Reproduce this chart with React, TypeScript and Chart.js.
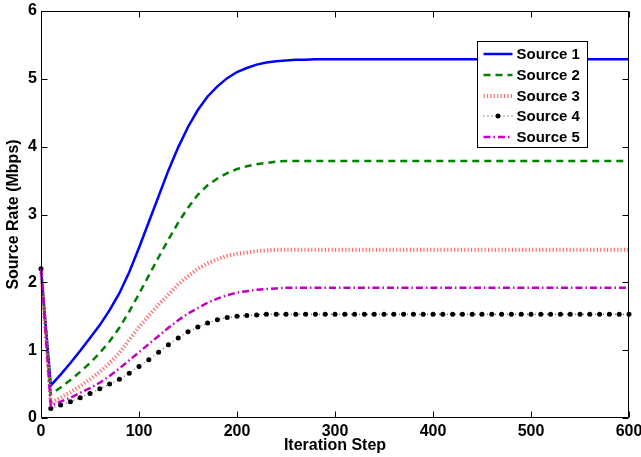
import React, { useEffect, useRef } from 'react';
import { Chart, registerables } from 'chart.js';

Chart.register(...registerables);

// ---------- data ----------
const steps = [
  0, 10, 20, 30, 40, 50, 60, 70, 80, 90,
  100, 110, 120, 130, 140, 150, 160, 170, 180, 190,
  200, 210, 220, 230, 240, 250, 260, 270, 280, 290,
  300, 310, 320, 330, 340, 350, 360, 370, 380, 390,
  400, 410, 420, 430, 440, 450, 460, 470, 480, 490,
  500, 510, 520, 530, 540, 550, 560, 570, 580, 590,
  600,
];

const source1 = [
  2.2, 0.48, 0.64, 0.81, 0.99, 1.18, 1.37, 1.59, 1.84, 2.15,
  2.51, 2.89, 3.27, 3.65, 3.99, 4.29, 4.54, 4.74, 4.89, 5.01,
  5.10, 5.16, 5.21, 5.24, 5.26, 5.27, 5.28, 5.28, 5.29, 5.29,
  5.29, 5.29, 5.29, 5.29, 5.29, 5.29, 5.29, 5.29, 5.29, 5.29,
  5.29, 5.29, 5.29, 5.29, 5.29, 5.29, 5.29, 5.29, 5.29, 5.29,
  5.29, 5.29, 5.29, 5.29, 5.29, 5.29, 5.29, 5.29, 5.29, 5.29,
  5.29,
];

const source2 = [
  2.2, 0.35, 0.45, 0.56, 0.68, 0.81, 0.96, 1.13, 1.33, 1.57,
  1.83, 2.10, 2.37, 2.63, 2.88, 3.10, 3.29, 3.43, 3.53, 3.61,
  3.67, 3.71, 3.74, 3.76, 3.78, 3.79, 3.79, 3.79, 3.79, 3.79,
  3.79, 3.79, 3.79, 3.79, 3.79, 3.79, 3.79, 3.79, 3.79, 3.79,
  3.79, 3.79, 3.79, 3.79, 3.79, 3.79, 3.79, 3.79, 3.79, 3.79,
  3.79, 3.79, 3.79, 3.79, 3.79, 3.79, 3.79, 3.79, 3.79, 3.79,
  3.79,
];

const source3 = [
  2.2, 0.22, 0.30, 0.38, 0.47, 0.57, 0.68, 0.81, 0.96, 1.15,
  1.34, 1.51, 1.67, 1.82, 1.97, 2.09, 2.20, 2.28, 2.34, 2.39,
  2.42, 2.44, 2.46, 2.47, 2.48, 2.48, 2.48, 2.48, 2.48, 2.48,
  2.48, 2.48, 2.48, 2.48, 2.48, 2.48, 2.48, 2.48, 2.48, 2.48,
  2.48, 2.48, 2.48, 2.48, 2.48, 2.48, 2.48, 2.48, 2.48, 2.48,
  2.48, 2.48, 2.48, 2.48, 2.48, 2.48, 2.48, 2.48, 2.48, 2.48,
  2.48,
];

const source4 = [
  2.2, 0.14, 0.19, 0.24, 0.30, 0.36, 0.43, 0.50, 0.57, 0.66,
  0.76, 0.86, 0.97, 1.08, 1.18, 1.27, 1.34, 1.40, 1.45, 1.48,
  1.50, 1.51, 1.52, 1.53, 1.53, 1.53, 1.53, 1.53, 1.53, 1.53,
  1.53, 1.53, 1.53, 1.53, 1.53, 1.53, 1.53, 1.53, 1.53, 1.53,
  1.53, 1.53, 1.53, 1.53, 1.53, 1.53, 1.53, 1.53, 1.53, 1.53,
  1.53, 1.53, 1.53, 1.53, 1.53, 1.53, 1.53, 1.53, 1.53, 1.53,
  1.53,
];

const source5 = [
  2.2, 0.18, 0.24, 0.30, 0.37, 0.44, 0.52, 0.62, 0.73, 0.85,
  0.97, 1.09, 1.21, 1.33, 1.44, 1.54, 1.62, 1.70, 1.76, 1.81,
  1.85, 1.87, 1.89, 1.90, 1.91, 1.92, 1.92, 1.92, 1.92, 1.92,
  1.92, 1.92, 1.92, 1.92, 1.92, 1.92, 1.92, 1.92, 1.92, 1.92,
  1.92, 1.92, 1.92, 1.92, 1.92, 1.92, 1.92, 1.92, 1.92, 1.92,
  1.92, 1.92, 1.92, 1.92, 1.92, 1.92, 1.92, 1.92, 1.92, 1.92,
  1.92,
];

const seriesLabels = ['Source 1', 'Source 2', 'Source 3', 'Source 4', 'Source 5'];
const xTicks = [0, 100, 200, 300, 400, 500, 600];
const yTicks = [0, 1, 2, 3, 4, 5, 6];
const xTitle = 'Iteration Step';
const yTitle = 'Source Rate (Mbps)';

// ---------- styles ----------
const FONT = '"Liberation Sans", Arial, Helvetica, sans-serif';

type Style = {
  color: string;
  width: number;
  dash: number[];
  marker: number;
};

const styles: Style[] = [
  { color: '#0000ff', width: 2.5, dash: [], marker: 0 },
  { color: '#008000', width: 2.5, dash: [7, 5], marker: 0 },
  { color: '#ff6a6a', width: 4, dash: [1.2, 2.2], marker: 0 },
  { color: '#333333', width: 1, dash: [1, 3], marker: 2.5 },
  { color: '#c000c0', width: 2.5, dash: [7, 3, 1.5, 3], marker: 0 },
];

const seriesValues = [source1, source2, source3, source4, source5];

const framePlugin = {
  id: 'matlabFrame',
  afterDatasetsDraw(chart: any) {
    const { ctx, chartArea: a, scales } = chart;
    const L = Math.round(a.left) + 0.5;
    const R = Math.round(a.right) - 0.5;
    const T = Math.round(a.top) + 0.5;
    const B = Math.round(a.bottom) - 0.5;
    const tl = 6;
    ctx.save();
    ctx.setLineDash([]);
    ctx.strokeStyle = '#000';
    ctx.lineWidth = 1;
    ctx.beginPath();
    ctx.rect(L, T, R - L, B - T);
    xTicks.forEach((v) => {
      const px = Math.round(scales.x.getPixelForValue(v)) + 0.5;
      ctx.moveTo(px, B);
      ctx.lineTo(px, B - tl);
      ctx.moveTo(px, T);
      ctx.lineTo(px, T + tl);
    });
    yTicks.forEach((v) => {
      const py = Math.round(scales.y.getPixelForValue(v)) + 0.5;
      ctx.moveTo(L, py);
      ctx.lineTo(L + tl, py);
      ctx.moveTo(R, py);
      ctx.lineTo(R - tl, py);
    });
    ctx.stroke();
    ctx.restore();
  },
};

const legendPlugin = {
  id: 'matlabLegend',
  afterDraw(chart: any) {
    const { ctx, chartArea: a } = chart;
    const boxW = 110;
    const boxH = 106;
    const x0 = Math.round(a.right - 42 - boxW) + 0.5;
    const y0 = Math.round(a.top + 30) + 0.5;
    ctx.save();
    ctx.fillStyle = '#fff';
    ctx.fillRect(x0, y0, boxW, boxH);
    ctx.setLineDash([]);
    ctx.strokeStyle = '#000';
    ctx.lineWidth = 1;
    ctx.strokeRect(x0, y0, boxW, boxH);
    ctx.font = `bold 15px ${FONT}`;
    ctx.textBaseline = 'middle';
    ctx.textAlign = 'left';
    chart.data.datasets.forEach((ds: any, i: number) => {
      const st = styles[i];
      const cy = Math.round(y0 + 12.5 + i * 20.8);
      const sx = x0 + 6;
      const ex = x0 + 35;
      ctx.beginPath();
      ctx.strokeStyle = st.color;
      ctx.lineWidth = st.width;
      ctx.lineCap = 'butt';
      ctx.setLineDash(st.dash);
      ctx.moveTo(sx, cy);
      ctx.lineTo(ex, cy);
      ctx.stroke();
      if (st.marker > 0) {
        ctx.setLineDash([]);
        ctx.fillStyle = '#000';
        ctx.beginPath();
        ctx.arc((sx + ex) / 2, cy, st.marker, 0, Math.PI * 2);
        ctx.fill();
      }
      ctx.fillStyle = '#000';
      ctx.fillText(ds.label, x0 + 39, cy + 0.5);
    });
    ctx.restore();
  },
};

export default function App() {
  const canvasRef = useRef<HTMLCanvasElement | null>(null);

  useEffect(() => {
    document.body.style.margin = '0';
    const canvas = canvasRef.current;
    if (!canvas) return;

    const datasets = seriesLabels.map((label, i) => {
      const st = styles[i];
      return {
        label,
        data: steps.map((s, k) => ({ x: s, y: seriesValues[i][k] })),
        borderColor: st.color,
        backgroundColor: st.color,
        borderWidth: st.width,
        borderDash: st.dash,
        borderCapStyle: 'butt' as const,
        pointRadius: st.marker,
        pointHoverRadius: st.marker,
        pointBorderWidth: 0,
        pointBackgroundColor: '#000',
        tension: 0,
        fill: false,
        clip: false as any,
        order: 5 - i,
      };
    });

    const chart = new Chart(canvas, {
      type: 'line',
      data: { datasets },
      plugins: [framePlugin, legendPlugin],
      options: {
        responsive: false,
        animation: false,
        devicePixelRatio: 1,
        layout: { padding: { top: 11, right: 12, left: 0, bottom: 0 } },
        plugins: {
          legend: { display: false },
          tooltip: { enabled: false },
        },
        scales: {
          x: {
            type: 'linear',
            min: 0,
            max: 600,
            afterBuildTicks: (scale: any) => {
              scale.ticks = xTicks.map((v) => ({ value: v }));
            },
            afterFit: (scale: any) => {
              scale.height = 39;
              scale.paddingLeft = 0;
              scale.paddingRight = 0;
            },
            grid: { display: false, drawTicks: false },
            border: { display: false },
            ticks: {
              autoSkip: false,
              maxRotation: 0,
              padding: 4,
              color: '#000',
              font: { family: FONT, size: 16, weight: 'bold' },
            },
            title: {
              display: true,
              text: xTitle,
              color: '#000',
              padding: { top: 0, bottom: 2 },
              font: { family: FONT, size: 16, weight: 'bold' },
            },
          },
          y: {
            type: 'linear',
            min: 0,
            max: 6,
            afterBuildTicks: (scale: any) => {
              scale.ticks = yTicks.map((v) => ({ value: v }));
            },
            afterFit: (scale: any) => {
              scale.width = 41;
              scale.paddingTop = 0;
              scale.paddingBottom = 0;
            },
            grid: { display: false, drawTicks: false },
            border: { display: false },
            ticks: {
              autoSkip: false,
              padding: 4,
              color: '#000',
              font: { family: FONT, size: 16, weight: 'bold' },
            },
            title: {
              display: true,
              text: yTitle,
              color: '#000',
              padding: { top: 4, bottom: 0 },
              font: { family: FONT, size: 16, weight: 'bold' },
            },
          },
        },
      },
    });

    return () => {
      chart.destroy();
    };
  }, []);

  return (
    <div style={{ width: 641, height: 457, background: '#fff' }}>
      <canvas ref={canvasRef} width={641} height={457} style={{ display: 'block' }} />
    </div>
  );
}
